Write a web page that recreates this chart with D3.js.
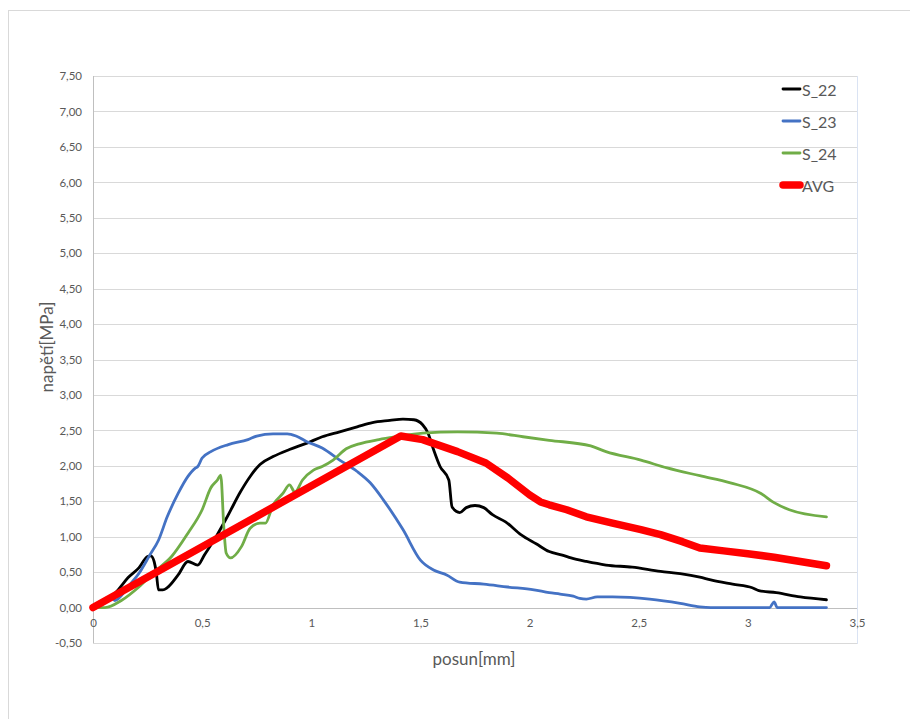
<!DOCTYPE html>
<html>
<head>
<meta charset="utf-8">
<script src="https://cdn.jsdelivr.net/npm/d3@7"></script>
<style>
  html, body { margin: 0; padding: 0; background: #fff; }
  svg { display: block; }
  text { font-family: Lato, "Open Sans", sans-serif; fill: #595959; }
</style>
</head>
<body>
<svg id="chart" width="910" height="719"></svg>
<script>
// ---- data ----
const seriesNames = ["S_22", "S_23", "S_24", "AVG"];

const s22x = [0, 0.04, 0.07, 0.115, 0.16, 0.21, 0.25, 0.265, 0.28, 0.29, 0.30, 0.32, 0.34, 0.39, 0.435, 0.48, 0.51, 0.56, 0.62, 0.673, 0.72, 0.765, 0.825, 0.90, 0.98, 1.05, 1.13, 1.21, 1.28, 1.36, 1.42, 1.47, 1.51, 1.535, 1.56, 1.59, 1.63, 1.645, 1.68, 1.71, 1.75, 1.79, 1.83, 1.89, 1.96, 2.03, 2.09, 2.15, 2.19, 2.26, 2.35, 2.47, 2.60, 2.69, 2.78, 2.83, 2.93, 3.02, 3.05, 3.13, 3.24, 3.36];
const s22y = [0, 0.05, 0.11, 0.25, 0.42, 0.56, 0.72, 0.73, 0.65, 0.49, 0.25, 0.25, 0.28, 0.46, 0.65, 0.60, 0.74, 0.98, 1.31, 1.62, 1.85, 2.02, 2.13, 2.23, 2.32, 2.41, 2.48, 2.55, 2.61, 2.64, 2.66, 2.65, 2.58, 2.46, 2.23, 1.99, 1.80, 1.42, 1.34, 1.41, 1.44, 1.41, 1.31, 1.21, 1.03, 0.90, 0.79, 0.74, 0.70, 0.65, 0.60, 0.57, 0.51, 0.48, 0.43, 0.39, 0.33, 0.28, 0.24, 0.21, 0.15, 0.11];

const s23x = [0, 0.05, 0.08, 0.10, 0.13, 0.16, 0.21, 0.26, 0.30, 0.34, 0.39, 0.435, 0.47, 0.48, 0.50, 0.54, 0.62, 0.71, 0.75, 0.825, 0.89, 0.93, 0.98, 1.05, 1.13, 1.21, 1.27, 1.33, 1.42, 1.50, 1.56, 1.62, 1.68, 1.79, 1.90, 2.02, 2.09, 2.14, 2.20, 2.23, 2.26, 2.31, 2.38, 2.55, 2.69, 2.78, 2.83, 3.10, 3.12, 3.135, 3.36];
const s23y = [0, 0.06, 0.14, 0.10, 0.17, 0.29, 0.48, 0.74, 0.95, 1.28, 1.61, 1.85, 1.97, 1.99, 2.11, 2.20, 2.30, 2.37, 2.42, 2.45, 2.45, 2.42, 2.34, 2.25, 2.08, 1.92, 1.76, 1.52, 1.10, 0.67, 0.53, 0.46, 0.36, 0.33, 0.29, 0.25, 0.21, 0.19, 0.16, 0.13, 0.12, 0.15, 0.15, 0.12, 0.06, 0.01, 0.0, 0.0, 0.08, 0.0, 0.0];

const s24x = [0, 0.055, 0.13, 0.21, 0.28, 0.36, 0.435, 0.50, 0.54, 0.57, 0.585, 0.60, 0.61, 0.63, 0.68, 0.72, 0.765, 0.79, 0.825, 0.87, 0.90, 0.925, 0.96, 1.01, 1.05, 1.10, 1.16, 1.22, 1.31, 1.39, 1.51, 1.67, 1.85, 1.97, 2.09, 2.28, 2.35, 2.51, 2.63, 2.78, 2.92, 3.06, 3.12, 3.19, 3.36];
const s24y = [0, 0.0, 0.10, 0.29, 0.50, 0.72, 1.05, 1.38, 1.69, 1.80, 1.87, 1.10, 0.77, 0.70, 0.86, 1.12, 1.19, 1.19, 1.45, 1.61, 1.73, 1.63, 1.80, 1.94, 1.99, 2.08, 2.24, 2.31, 2.37, 2.41, 2.46, 2.48, 2.46, 2.41, 2.36, 2.28, 2.20, 2.08, 1.97, 1.86, 1.76, 1.61, 1.48, 1.38, 1.28];

const avgX = [0, 1.41, 1.51, 1.67, 1.80, 1.90, 2.00, 2.05, 2.09, 2.17, 2.26, 2.38, 2.51, 2.60, 2.70, 2.78, 2.89, 3.00, 3.12, 3.24, 3.36];
const avgY = [0, 2.42, 2.37, 2.20, 2.04, 1.83, 1.59, 1.49, 1.45, 1.38, 1.28, 1.19, 1.10, 1.03, 0.93, 0.84, 0.80, 0.76, 0.71, 0.65, 0.59];

const xTicks = [0, 0.5, 1, 1.5, 2, 2.5, 3, 3.5];
const xTickLabels = ["0", "0,5", "1", "1,5", "2", "2,5", "3", "3,5"];
const yTicks = [-0.5, 0, 0.5, 1, 1.5, 2, 2.5, 3, 3.5, 4, 4.5, 5, 5.5, 6, 6.5, 7, 7.5];
const yTickLabels = ["-0,50", "0,00", "0,50", "1,00", "1,50", "2,00", "2,50", "3,00", "3,50", "4,00", "4,50", "5,00", "5,50", "6,00", "6,50", "7,00", "7,50"];

const xTitle = "posun[mm]";
const yTitle = "napětí[MPa]";

// ---- layout ----
const svg = d3.select("#chart");
const L = 93, R = 857, T = 76, B = 643;
const x = d3.scaleLinear().domain([0, 3.5]).range([L, R]);
const y = d3.scaleLinear().domain([-0.5, 7.5]).range([B, T]);

// outer chart border
svg.append("rect").attr("x", 8.5).attr("y", 10.5).attr("width", 920).attr("height", 730)
  .attr("fill", "#fff").attr("stroke", "#d9d9d9").attr("stroke-width", 1);

// plot area border
svg.append("rect").attr("x", L + 0.5).attr("y", T + 0.5).attr("width", R - L).attr("height", B - T)
  .attr("fill", "none").attr("stroke", "#dae3f3").attr("stroke-width", 1);

// gridlines
svg.append("g").selectAll("line").data(yTicks).join("line")
  .attr("x1", L).attr("x2", R)
  .attr("y1", d => Math.round(y(d)) + 0.5).attr("y2", d => Math.round(y(d)) + 0.5)
  .attr("stroke", "#d9d9d9").attr("stroke-width", 1);

// y axis
const yAxis = d3.axisLeft(y).tickValues(yTicks).tickSize(0).tickPadding(11)
  .tickFormat((d, i) => yTickLabels[i]);
const gy = svg.append("g").attr("transform", `translate(${L},0)`).call(yAxis);
gy.select(".domain").remove();
gy.selectAll("text").attr("font-size", 11.5).attr("fill", "#595959")
  .style("font-family", "Lato, sans-serif");
svg.append("line").attr("x1", L + 0.5).attr("x2", L + 0.5).attr("y1", T).attr("y2", B)
  .attr("stroke", "#bfbfbf").attr("stroke-width", 1);

// x axis (at y = 0)
const y0 = Math.round(y(0)) + 0.5;
svg.append("line").attr("x1", L).attr("x2", R).attr("y1", y0).attr("y2", y0)
  .attr("stroke", "#bfbfbf").attr("stroke-width", 1);
const xAxis = d3.axisBottom(x).tickValues(xTicks).tickSize(0).tickPadding(11)
  .tickFormat((d, i) => xTickLabels[i]);
const gx = svg.append("g").attr("transform", `translate(0,${y(0)})`).call(xAxis);
gx.select(".domain").remove();
gx.selectAll("text").attr("font-size", 11.5).attr("fill", "#595959")
  .style("font-family", "Lato, sans-serif");

// axis titles
svg.append("text").attr("x", 474).attr("y", 658).attr("text-anchor", "middle")
  .attr("dominant-baseline", "central").attr("font-size", 17).text(xTitle);
svg.append("text").attr("transform", "translate(46,347) rotate(-90)").attr("text-anchor", "middle")
  .attr("dominant-baseline", "central").attr("font-size", 17).text(yTitle);

// series
const series = [
  { name: seriesNames[0], xs: s22x, ys: s22y, color: "#000000", width: 2.8, curve: d3.curveMonotoneX },
  { name: seriesNames[1], xs: s23x, ys: s23y, color: "#4472C4", width: 2.8, curve: d3.curveMonotoneX },
  { name: seriesNames[2], xs: s24x, ys: s24y, color: "#70AD47", width: 2.8, curve: d3.curveMonotoneX },
  { name: seriesNames[3], xs: avgX, ys: avgY, color: "#FF0000", width: 7.5, curve: d3.curveLinear }
];

series.forEach(s => {
  const pts = s.xs.map((v, i) => [v, s.ys[i]]);
  const line = d3.line().x(d => x(d[0])).y(d => y(d[1])).curve(s.curve);
  svg.append("path").datum(pts).attr("d", line)
    .attr("fill", "none").attr("stroke", s.color).attr("stroke-width", s.width)
    .attr("stroke-linejoin", "round").attr("stroke-linecap", "round");
});

// legend
const lg = svg.append("g");
series.forEach((s, i) => {
  const ly = 89 + i * 32;
  const isAvg = s.width > 5;
  lg.append("line").attr("x1", isAvg ? 783 : 783).attr("x2", isAvg ? 800 : 800)
    .attr("y1", ly).attr("y2", ly)
    .attr("stroke", s.color).attr("stroke-width", s.width).attr("stroke-linecap", "round");
  lg.append("text").attr("x", 802).attr("y", ly).attr("dominant-baseline", "central")
    .attr("font-size", 16).text(s.name);
});
</script>
</body>
</html>
